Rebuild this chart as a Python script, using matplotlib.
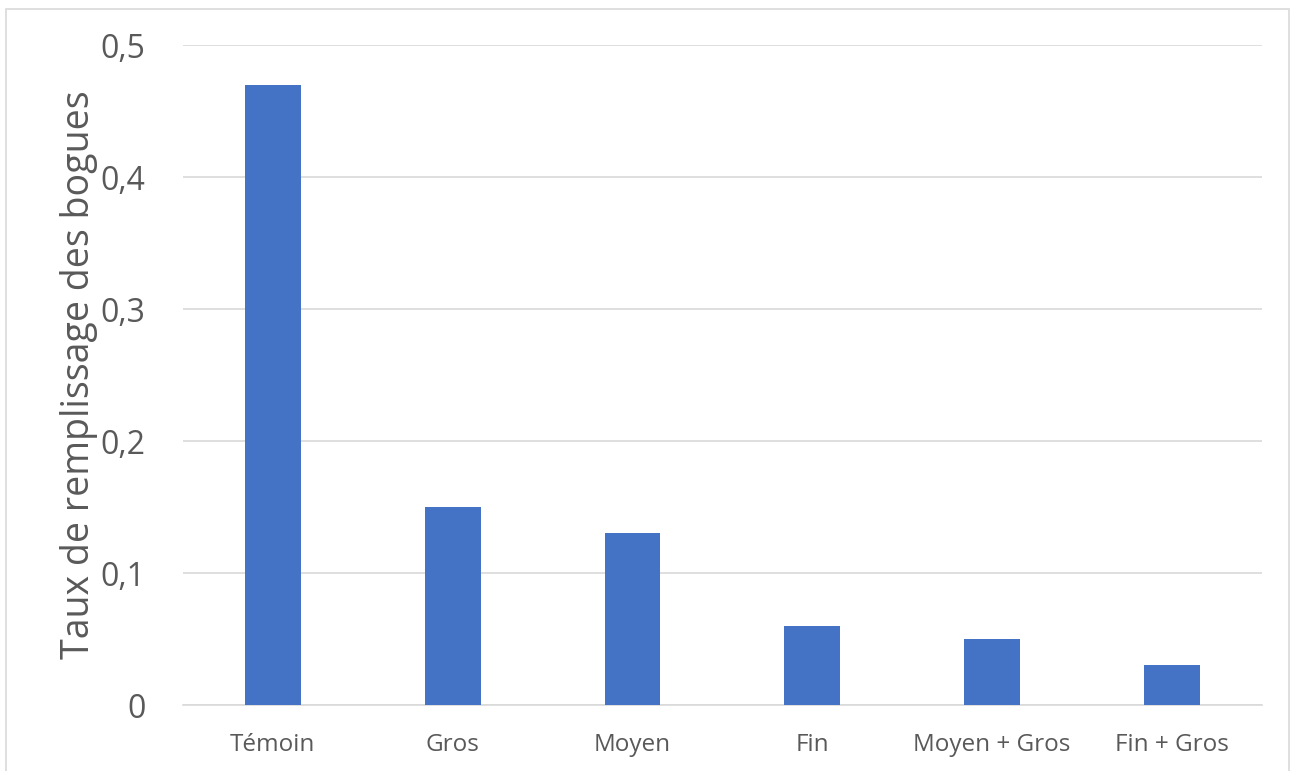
import matplotlib
matplotlib.use("Agg")
import matplotlib.pyplot as plt
from matplotlib.patches import Rectangle
from matplotlib.ticker import FuncFormatter

categories = ["Témoin", "Gros", "Moyen", "Fin", "Moyen + Gros", "Fin + Gros"]
values = [0.47, 0.15, 0.13, 0.06, 0.05, 0.03]
y_ticks = [0, 0.1, 0.2, 0.3, 0.4, 0.5]

plt.rcParams["font.family"] = ["Open Sans", "DejaVu Sans"]
text_color = "#595959"
grid_color = "#d9d9d9"

fig = plt.figure(figsize=(12.92, 7.71), dpi=100)
ax = fig.add_axes([0.1416, 0.0856, 0.835, 0.856])

ax.bar(range(len(categories)), values, width=0.31, color="#4472C4", zorder=3)

ax.set_xlim(-0.5, len(categories) - 0.5)
ax.set_ylim(0, 0.5)
ax.set_yticks(y_ticks)
ax.yaxis.set_major_formatter(FuncFormatter(lambda v, p: ("%g" % round(v, 1)).replace(".", ",")))
ax.set_xticks(range(len(categories)))
ax.set_xticklabels(categories)

ax.tick_params(axis="y", labelsize=23, colors=text_color, length=0, pad=27)
ax.tick_params(axis="x", labelsize=17.5, colors=text_color, length=0, pad=20)
ax.grid(axis="y", color=grid_color, linewidth=1.2, zorder=0)
for side in ["top", "right", "left"]:
    ax.spines[side].set_visible(False)
ax.spines["bottom"].set_color(grid_color)
ax.spines["bottom"].set_linewidth(1.2)

ax.set_ylabel("Taux de remplissage des bogues", fontsize=27, color=text_color, labelpad=2)

# chart border like the spreadsheet frame
fig.patches.append(Rectangle((6 / 1292, -0.01), 1283 / 1292, 1 - 9 / 771 + 0.01,
                             transform=fig.transFigure, fill=False,
                             edgecolor="#d9d9d9", linewidth=1.2))

fig.savefig("out.png", dpi=100)
